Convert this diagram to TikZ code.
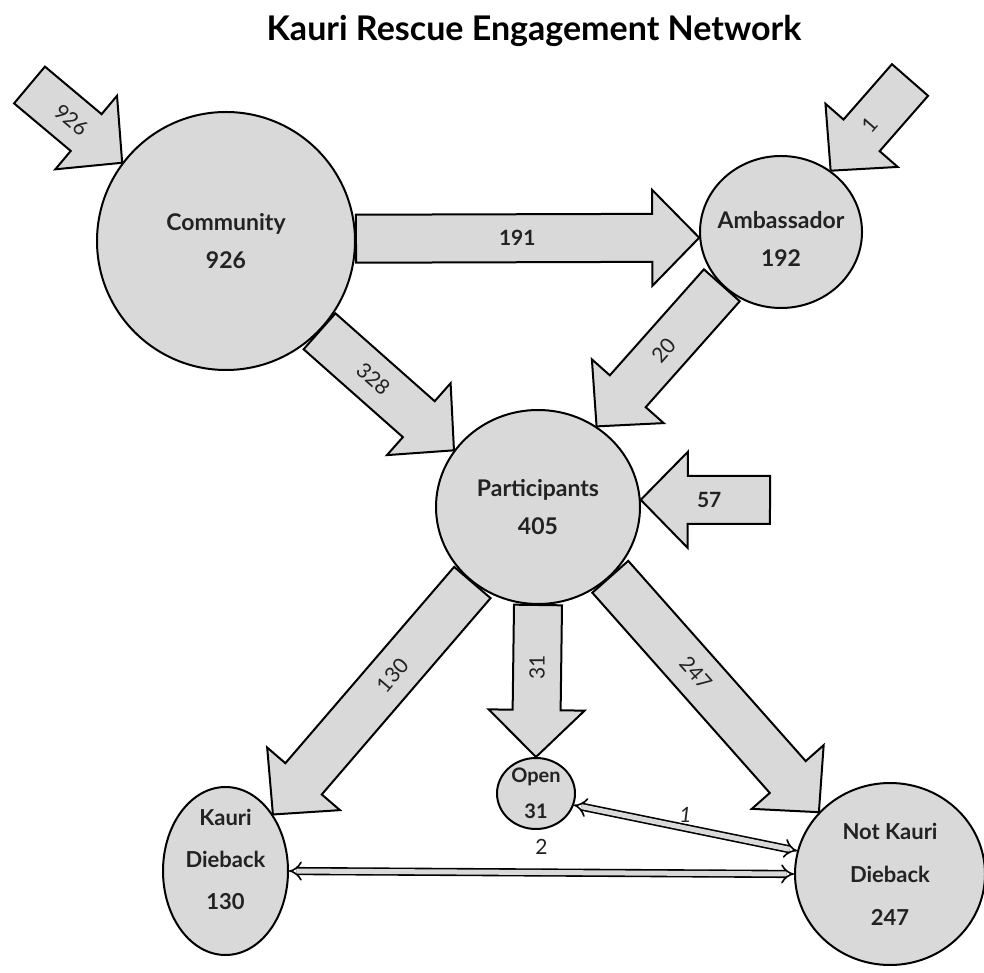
\documentclass[tikz,border=0pt]{standalone}
\usepackage{fontspec}
\setmainfont{Lato}
\usetikzlibrary{positioning, shapes.geometric, calc, arrows.meta}

\definecolor{flowgray}{HTML}{D9D9D9}
\definecolor{inkgray}{HTML}{222222}

\tikzset{
  state/.style={ellipse, draw, line width=2pt, fill=flowgray, inner sep=-8pt,
    align=center, text=inkgray, font=\bfseries\fontsize{23}{38}\selectfont},
  flow/.style={draw=black, line width=2pt, fill=flowgray, line join=miter,
    to path={let \p1=(\tikztostart), \p2=(\tikztotarget),
      \p3=($(\p2)!47pt!(\p1)$) in
      ($(\p1)!24pt!90:(\p2)$) -- ($(\p3)!24pt!90:(\p2)$) -- ($(\p3)!48pt!90:(\p2)$)
      -- (\p2) -- ($(\p3)!48pt!-90:(\p2)$) -- ($(\p3)!24pt!-90:(\p2)$)
      -- ($(\p1)!24pt!-90:(\p2)$) -- cycle}},
  link/.style={double=flowgray, double distance=5pt, line width=1.6pt,
    {Implies[length=9pt, width=20pt]}-{Implies[length=9pt, width=20pt]}},
  lbl/.style={text=inkgray, font=\fontsize{21}{24}\selectfont},
}

\begin{document}
\begin{tikzpicture}[x=1pt, y=1pt, on grid]
\useasboundingbox (0,0) rectangle (984,972);

% Title
\node (title) at (534,941) {\bfseries\fontsize{34}{40}\selectfont Kauri Rescue Engagement Network};

% Nodes
\node (part) [state, minimum width=204pt, minimum height=194pt] at (538,465) {Participants\\405};
\node (comm) [state, minimum size=258pt, above left=266pt and 312pt of part] {Community\\926};
\node (amb)  [state, minimum width=162pt, minimum height=152pt, text height=69pt,
  above right=275pt and 243pt of part] {Ambassador\\192};
\node (open) [state, minimum width=78pt, minimum height=71pt, inner sep=-12pt,
  font=\bfseries\fontsize{20}{36}\selectfont, below left=286.5pt and 2pt of part] {Open\\31};
\node (kd)   [state, minimum width=125pt, minimum height=168pt, text depth=24pt,
  font=\bfseries\fontsize{22}{42}\selectfont, below left=364pt and 312.5pt of part] {Kauri\\Dieback\\130};
\node (nkd)  [state, minimum width=190pt, minimum height=182pt,
  font=\bfseries\fontsize{22}{43}\selectfont, below right=367pt and 352pt of part] {Not Kauri\\Dieback\\247};

% Free ends
\coordinate (in926) at (29.5,887);
\coordinate (in1)   at (910,892);
\coordinate (in57)  at (770,472);

% Flows
\draw[flow] (in926) to (comm.143);
\draw[flow] (in1) to (amb.51);
\draw[flow] (in57) to (part.4);
\draw[flow] (comm.1) to (amb.184);
\draw[flow] (comm.-44) to (part.146);
\draw[flow] (amb.222) to (part.54);
\draw[flow] (part.229) to (kd.50);
\draw[flow] (part.-90) to (open.90);
\draw[flow] (part.-44) to (nkd.139);

% Flow labels
\path (in926) -- (comm.143) node[lbl, pos=.45, sloped] {926};
\path (in1) -- (amb.51) node[lbl, pos=.5, sloped] {1};
\path (in57) -- (part.4) node[lbl, pos=.47, font=\bfseries\fontsize{21}{24}\selectfont] {57};
\path (comm.1) -- (amb.184) node[lbl, pos=.47, font=\bfseries\fontsize{21}{24}\selectfont] {191};
\path (comm.-44) -- (part.146) node[lbl, pos=.4, sloped] {328};
\path (amb.222) -- (part.54) node[lbl, pos=.46, sloped] {20};
\path (part.229) -- (kd.50) node[lbl, pos=.4, sloped] {130};
\path (part.-90) -- (open.90) node[lbl, pos=.41, rotate=90] {31};
\path (part.-44) -- (nkd.139) node[lbl, pos=.41, sloped] {247};

% Links
\draw[link] (kd.east) -- (nkd.west) node[lbl, midway, above=14pt] {2};
\draw[link] (open.-17) -- (nkd.166) node[lbl, midway, above=1pt] {\itshape 1};

\end{tikzpicture}
\end{document}
